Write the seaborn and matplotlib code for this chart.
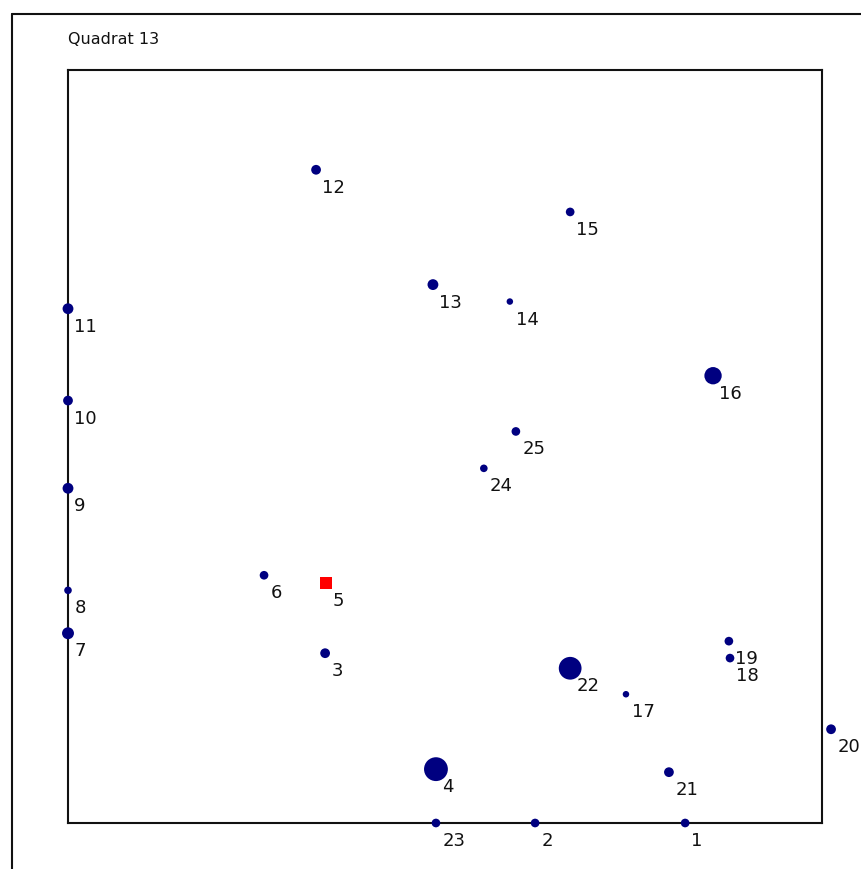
import numpy as np
import pandas as pd
import matplotlib
matplotlib.use("Agg")
import matplotlib.pyplot as plt
import seaborn as sns
from matplotlib.lines import Line2D

# tree positions in the 20 x 20 quadrat (m)
tree_id = [1, 2, 3, 4, 5, 6, 7, 8, 9, 10, 11, 12, 13,
           14, 15, 16, 17, 18, 19, 20, 21, 22, 23, 24, 25]
x_pos = [16.37, 12.39, 6.82, 9.76, 6.84, 5.20, 0.0, 0.0, 0.0, 0.0, 0.0, 6.58, 9.68,
         11.72, 13.32, 17.11, 14.80, 17.56, 17.53, 20.24, 15.94, 13.32, 9.76, 11.03, 11.88]
y_pos = [0.0, 0.0, 4.51, 1.43, 6.37, 6.58, 5.04, 6.18, 8.89, 11.22, 13.66, 17.35, 14.30,
         13.85, 16.23, 11.88, 3.42, 4.38, 4.83, 2.49, 1.35, 4.11, 0.0, 9.42, 10.40]
# stem size (relative diameter of the dot)
stem = [8, 8, 9, 22, 11, 8, 11, 7, 10, 9, 10, 9, 10,
        6, 8, 16, 6, 8, 8, 9, 9, 21, 8, 7, 8]
highlight = [5]

df = pd.DataFrame({"id": tree_id, "x": x_pos, "y": y_pos, "stem": stem})
df["s"] = (df["stem"] * 0.78) ** 2

sns.set_style("white")
fig = plt.figure(figsize=(8.61, 8.69), dpi=100)
W, H = 861, 869
ax = fig.add_axes([68 / W, 1 - 823 / H, (822 - 68) / W, (823 - 70) / H])

normal = df[~df["id"].isin(highlight)]
special = df[df["id"].isin(highlight)]
sns.scatterplot(data=normal, x="x", y="y", s=normal["s"].values, color="#000080",
                linewidth=0, ax=ax, clip_on=False, zorder=3)
sns.scatterplot(data=special, x="x", y="y", marker="s", s=(12 * 0.75) ** 2, color="#ff0000",
                linewidth=0, ax=ax, clip_on=False, zorder=3)

for _, r in df.iterrows():
    ax.annotate(str(int(r["id"])), (r["x"], r["y"]), xytext=(4.5, -13),
                textcoords="offset points", ha="left", va="center",
                fontsize=13, color="#111111", annotation_clip=False)

ax.set_xlim(0, 20)
ax.set_ylim(0, 20)
ax.set_xticks([])
ax.set_yticks([])
ax.set_xlabel("")
ax.set_ylabel("")
for sp in ax.spines.values():
    sp.set_color("#111111")
    sp.set_linewidth(1.5)
    sp.set_visible(True)

# outer frame (left and top edges visible)
fig.add_artist(Line2D([12 / W, 12 / W], [0, 1 - 14 / H], transform=fig.transFigure,
                      color="#111111", linewidth=1.5))
fig.add_artist(Line2D([12 / W, 1], [1 - 14 / H, 1 - 14 / H], transform=fig.transFigure,
                      color="#111111", linewidth=1.5))

fig.text(68 / W, 1 - 40 / H, "Quadrat 13", ha="left", va="center", fontsize=11.5,
         color="#111111")

fig.savefig("out.png", dpi=100, facecolor="white")
